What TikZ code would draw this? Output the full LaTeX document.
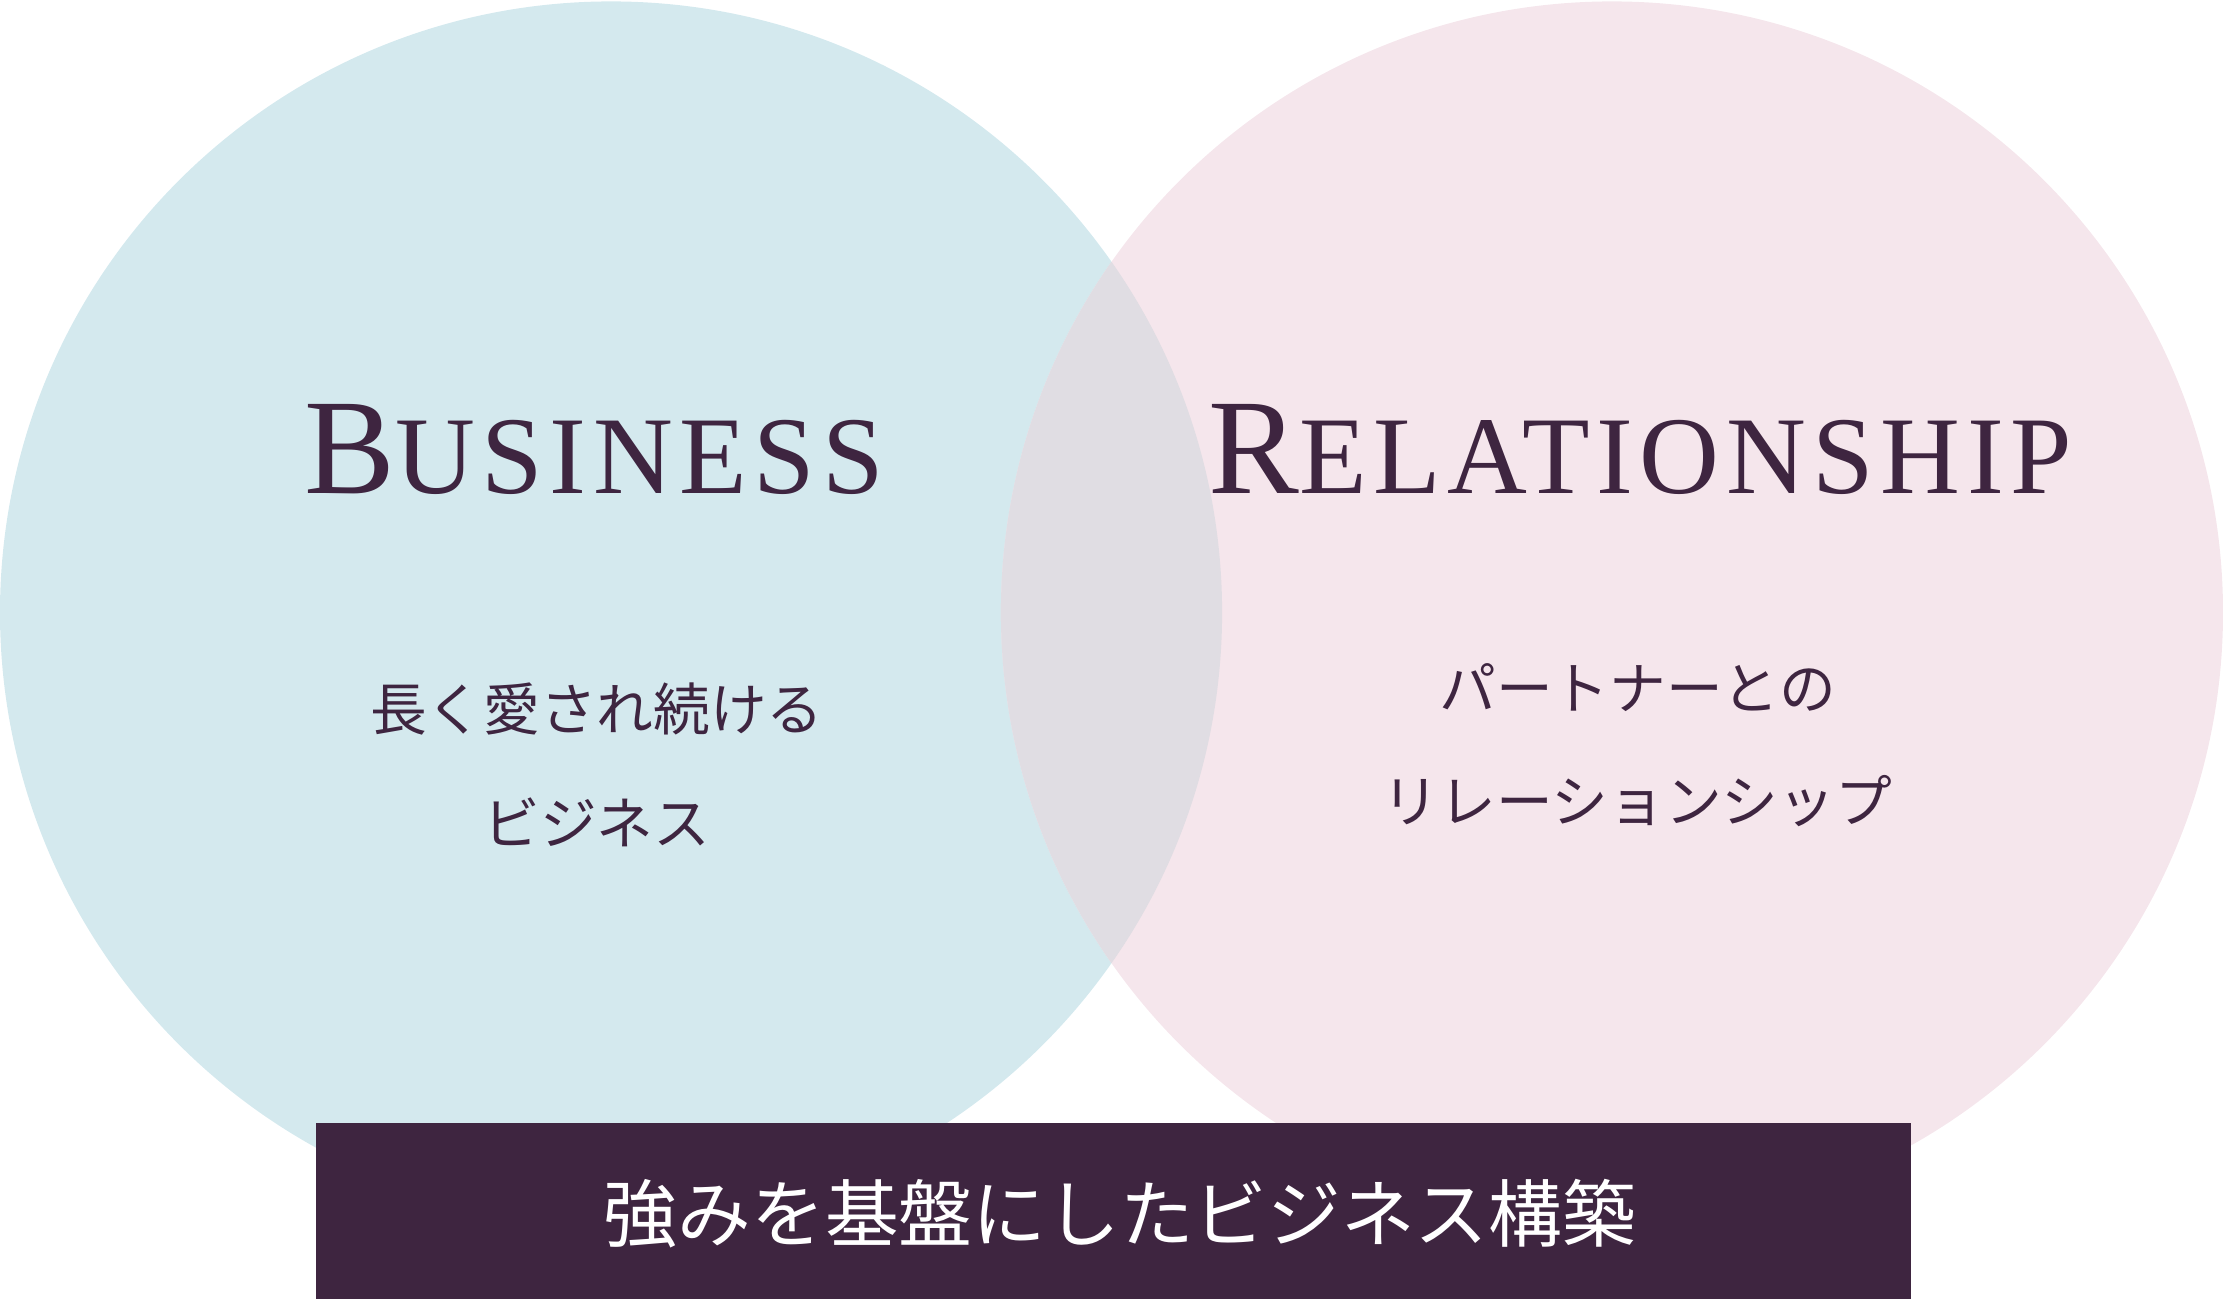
\documentclass[tikz,border=0pt]{standalone}
\usepackage{fontspec}
\setmainfont{Liberation Serif}
\newfontfamily\cjk{Noto Sans CJK JP}[Scale=1]
\newfontfamily\scfont{Liberation Serif}[LetterSpace=6]
\definecolor{ink}{HTML}{3E2540}
\definecolor{blueC}{HTML}{D4E9EE}
\definecolor{pinkC}{HTML}{F5E6EC}
\definecolor{mixC}{HTML}{E0DDE3}
\tikzset{
 jp/.style={text=ink,font=\cjk\fontsize{40}{48}\selectfont,align=center},
 title/.style={text=ink,inner sep=0pt}
}
\newcommand{\bigsc}[2]{{\fontsize{96}{100}\selectfont #1}{\fontsize{78}{80}\selectfont #2}}
\begin{document}
\begin{tikzpicture}[x=1pt,y=-1pt]
\useasboundingbox (0,0) rectangle (1568,916);
\fill[blueC] (431,432) circle (431);
\fill[pinkC] (1137,432) circle (431);
\begin{scope}
\clip (431,432) circle (431);
\fill[mixC] (1137,432) circle (431);
\end{scope}
\node[title,anchor=base] (bus) at (419,348) {\scfont\bigsc{B}{USINESS}};
\node[title,anchor=base] (rel) at (1157,348) {\scfont\bigsc{R}{ELATIONSHIP}};
\node[jp] (l1) at (421,500) {長く愛され続ける};
\node[jp] (l2) at (421,580) {ビジネス};
\node[jp] (r1) at (1155,485) {パートナーとの};
\node[jp] (r2) at (1155,565) {リレーションシップ};
\fill[ink] (223,792) rectangle (1348,916);
\node[text=white,font=\cjk\fontsize{52}{60}\selectfont] (bottom) at (790,856) {強みを基盤にしたビジネス構築};
\end{tikzpicture}
\end{document}
